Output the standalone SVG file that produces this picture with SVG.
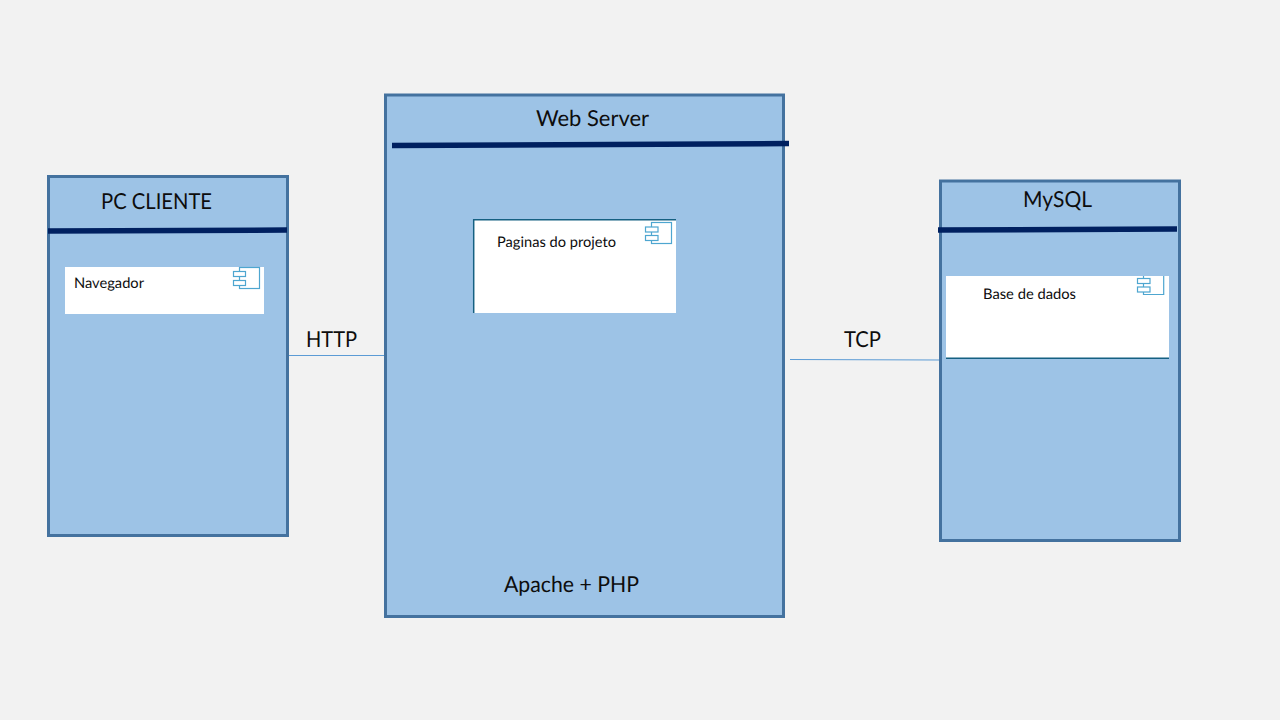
<svg xmlns="http://www.w3.org/2000/svg" width="1280" height="720" viewBox="0 0 1280 720">
<style>
.box{fill:#9dc3e6;stroke:#44729f;stroke-width:3}
.bar{stroke:#002060;stroke-width:5.5;fill:none}
.card{fill:#fff}
.edge{stroke:#156082;stroke-width:1.5;fill:none}
.ico{fill:#fff;stroke:#4ea6d0;stroke-width:1.2}
.link{stroke:#5b9bd5;stroke-width:1;fill:none}
text{font-family:Lato,"Open Sans",sans-serif;fill:#0d0d0d;text-rendering:geometricPrecision}
.t{font-size:22px}
.s{font-size:14.6px}
</style>
<rect width="1280" height="720" fill="#f2f2f2"/>
<g id="connectors">
<path class="link" d="M289 355.500H385"/>
<path class="link" d="M790 359.500L940 360"/>
</g>
<g id="pc-cliente">
<rect class="box" x="48.500" y="176.500" width="239" height="359"/>
<path class="bar" d="M48 231L287 230"/>
<text class="t" x="101" y="209" textLength="111" lengthAdjust="spacingAndGlyphs">PC CLIENTE</text>
<rect class="card" x="65" y="267" width="199" height="47"/>
<text class="s" x="74" y="288" textLength="70" lengthAdjust="spacingAndGlyphs">Navegador</text>
<rect class="ico" x="239.500" y="267.500" width="20" height="21"/>
<rect class="ico" x="233.500" y="271.500" width="12" height="5"/>
<rect class="ico" x="233.500" y="280.500" width="12" height="5"/>
</g>
<g id="web-server">
<rect class="box" x="385.500" y="95" width="398" height="521.500"/>
<path class="bar" d="M392 145.500L789 143.500"/>
<text class="t" x="536" y="126" textLength="113" lengthAdjust="spacingAndGlyphs">Web Server</text>
<text class="t" x="504" y="592" textLength="135" lengthAdjust="spacingAndGlyphs">Apache + PHP</text>
<rect class="card" x="473.500" y="219.500" width="202.500" height="93.500"/>
<path class="edge" d="M473.700 313V219.700H676"/>
<text class="s" x="497" y="247" textLength="119" lengthAdjust="spacingAndGlyphs">Paginas do projeto</text>
<rect class="ico" x="651.500" y="222.500" width="20" height="21"/>
<rect class="ico" x="645.500" y="227" width="12.500" height="5"/>
<rect class="ico" x="645.500" y="235.500" width="12.500" height="5"/>
</g>
<g id="mysql">
<rect class="box" x="940.500" y="181" width="239" height="359.500"/>
<path class="bar" d="M938 230L1177 229"/>
<text class="t" x="1023" y="207" textLength="69" lengthAdjust="spacingAndGlyphs">MySQL</text>
<rect class="card" x="946" y="276" width="223" height="82"/>
<path class="edge" d="M946 358.200H1169"/>
<text class="s" x="983" y="299" textLength="93" lengthAdjust="spacingAndGlyphs">Base de dados</text>
<path class="ico" d="M1143.500 276V294.500H1163.700V276"/>
<rect class="ico" x="1137.500" y="278.500" width="12.500" height="5"/>
<rect class="ico" x="1137.500" y="287" width="12.500" height="5"/>
</g>
<g id="labels">
<text class="t" x="306" y="347" textLength="51" lengthAdjust="spacingAndGlyphs">HTTP</text>
<text class="t" x="844" y="347" textLength="37" lengthAdjust="spacingAndGlyphs">TCP</text>
</g>
</svg>
